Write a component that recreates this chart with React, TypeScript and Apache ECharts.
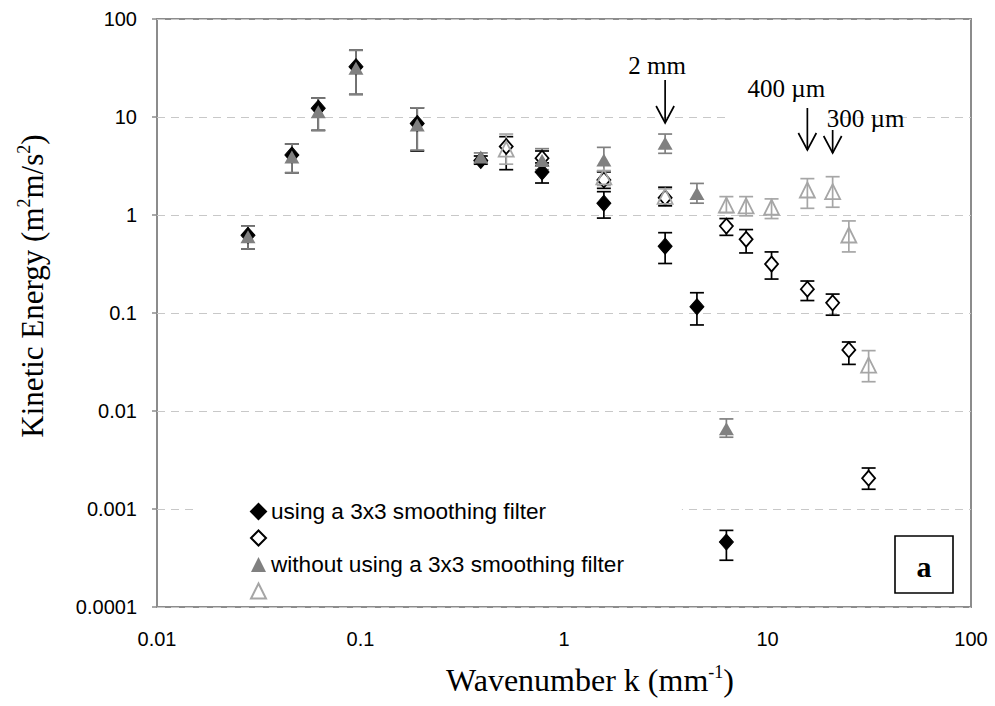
import React, { useEffect, useRef } from "react";
import * as echarts from "echarts";

// ---- data (wavenumber k in mm^-1, kinetic energy in m^2 m/s^2) ----
const kFilled = [0.028, 0.046, 0.062, 0.095, 0.19, 0.39, 0.78, 1.57, 3.14, 4.5, 6.28];
const keFilledDiamond = [0.62, 4.1, 12.3, 32.6, 8.6, 3.6, 2.75, 1.32, 0.48, 0.116, 0.00046];
const loFilledDiamond = [0.45, 2.7, 7.3, 17, 4.5, 3.3, 2.12, 0.93, 0.32, 0.0755, 0.0003];
const hiFilledDiamond = [0.77, 5.3, 15.6, 48, 12.4, 4.0, 3.4, 1.73, 0.66, 0.161, 0.000605];

const keFilledTriangle = [0.6, 3.9, 11.3, 31.4, 8.3, 3.9, 3.6, 3.64, 5.4, 1.66, 0.0066];
const loFilledTriangle = [0.45, 2.7, 7.3, 17, 4.6, 3.5, 2.9, 2.83, 4.26, 1.32, 0.0054];
const hiFilledTriangle = [0.77, 5.3, 15.6, 48, 12.4, 4.3, 4.75, 4.9, 6.7, 2.1, 0.0083];

const kHollowDiamond = [0.52, 0.78, 1.57, 3.14, 6.28, 7.85, 10.47, 15.7, 20.9, 25.1, 31.4];
const keHollowDiamond = [5.0, 3.8, 2.28, 1.5, 0.77, 0.565, 0.316, 0.175, 0.127, 0.042, 0.00206];
const loHollowDiamond = [2.9, 3.2, 1.87, 1.24, 0.62, 0.41, 0.222, 0.134, 0.095, 0.0299, 0.00159];
const hiHollowDiamond = [6.3, 4.5, 2.75, 1.92, 0.92, 0.71, 0.42, 0.212, 0.156, 0.0506, 0.00262];

const kHollowTriangle = [0.52, 1.57, 3.14, 6.28, 7.85, 10.47, 15.7, 20.9, 25.1, 31.4];
const keHollowTriangle = [4.7, 2.45, 1.55, 1.26, 1.24, 1.2, 1.8, 1.73, 0.625, 0.0294];
const loHollowTriangle = [3.3, 2.0, 1.3, 1.06, 0.98, 0.92, 1.17, 1.2, 0.42, 0.0199];
const hiHollowTriangle = [6.7, 2.83, 1.85, 1.54, 1.54, 1.46, 2.35, 2.46, 0.87, 0.0413];

const seriesNames = [
  "using a 3x3 smoothing filter",
  "_hollowDiamond",
  "without using a 3x3 smoothing filter",
  "_hollowTriangle",
];

const annotationLabels = ["2 mm", "400 µm", "300 µm"];
const annotationK = [3.14, 15.7, 20.9];

const xMin = 0.01;
const xMax = 100;
const yMin = 0.0001;
const yMax = 100;

const SANS = "'Liberation Sans', Arial, sans-serif";
const SERIF = "'Liberation Serif', 'Times New Roman', serif";

const pts = (xs: number[], ys: number[]) => xs.map((x, i) => [x, ys[i]]);
const errs = (xs: number[], lo: number[], hi: number[]) =>
  xs.map((x, i) => [x, lo[i], hi[i]]);

const errRender = (color: string) => (params: any, api: any) => {
  const x = api.value(0);
  const lo = api.value(1);
  const hi = api.value(2);
  const p1 = api.coord([x, lo]);
  const p2 = api.coord([x, hi]);
  const w = 7;
  const style = { stroke: color, lineWidth: 1.7, fill: "none" };
  return {
    type: "group",
    children: [
      { type: "line", shape: { x1: p1[0], y1: p1[1], x2: p2[0], y2: p2[1] }, style },
      { type: "line", shape: { x1: p1[0] - w, y1: p1[1], x2: p1[0] + w, y2: p1[1] }, style },
      { type: "line", shape: { x1: p2[0] - w, y1: p2[1], x2: p2[0] + w, y2: p2[1] }, style },
    ],
  };
};

const fmt = (v: number) => String(Number(v.toPrecision(1)));

export default function App() {
  const ref = useRef<HTMLDivElement>(null);

  useEffect(() => {
    document.body.style.margin = "0";
    if (!ref.current) return;
    const chart = echarts.init(ref.current, undefined, { renderer: "svg" });

    const errSeries = (xs: number[], lo: number[], hi: number[], color: string) => ({
      type: "custom",
      renderItem: errRender(color),
      data: errs(xs, lo, hi),
      encode: { x: 0, y: [1, 2] },
      silent: true,
    });

    const option: any = {
      animation: false,
      backgroundColor: "#ffffff",
      grid: {
        left: 157,
        right: 24,
        top: 19,
        bottom: 99,
        show: true,
        borderColor: "#8c8c8c",
        borderWidth: 2,
        backgroundColor: "transparent",
      },
      xAxis: {
        type: "log",
        logBase: 10,
        min: xMin,
        max: xMax,
        axisLine: { show: false },
        axisTick: { show: false },
        splitLine: { show: false },
        axisLabel: {
          fontFamily: SANS,
          fontSize: 20,
          color: "#000",
          margin: 22,
          formatter: fmt,
        },
      },
      yAxis: {
        type: "log",
        logBase: 10,
        min: yMin,
        max: yMax,
        axisLine: { show: false },
        axisTick: { show: true, length: 5, lineStyle: { color: "#8c8c8c", width: 1.5 } },
        splitLine: {
          show: true,
          lineStyle: { color: "#c8c8c8", width: 1, type: [8, 6] },
        },
        axisLabel: {
          fontFamily: SANS,
          fontSize: 20,
          color: "#000",
          margin: 20,
          formatter: fmt,
        },
      },
      legend: {
        data: seriesNames,
        orient: "vertical",
        left: 197,
        top: 492,
        padding: [8, 58, 2, 53],
        backgroundColor: "#ffffff",
        itemWidth: 15,
        itemHeight: 15,
        itemGap: 3.5,
        selectedMode: false,
        formatter: (name: string) => (name.startsWith("_") ? " " : name),
        textStyle: { fontFamily: SANS, fontSize: 22.6, color: "#000", lineHeight: 22 },
      },
      series: [
        errSeries(kFilled, loFilledDiamond, hiFilledDiamond, "#000000"),
        {
          name: seriesNames[0],
          type: "scatter",
          symbol: "diamond",
          symbolSize: [14, 16],
          itemStyle: { color: "#000000", opacity: 1, borderColor: "#000000", borderWidth: 1 },
          data: pts(kFilled, keFilledDiamond),
        },
        errSeries(kHollowDiamond, loHollowDiamond, hiHollowDiamond, "#000000"),
        {
          name: seriesNames[1],
          type: "scatter",
          symbol: "diamond",
          symbolSize: [13, 15],
          itemStyle: { color: "#ffffff", opacity: 1, borderColor: "#000000", borderWidth: 1.8 },
          data: pts(kHollowDiamond, keHollowDiamond),
        },
        errSeries(kFilled, loFilledTriangle, hiFilledTriangle, "#808080"),
        {
          name: seriesNames[2],
          type: "scatter",
          symbol: "triangle",
          symbolSize: [15, 13],
          itemStyle: { color: "#808080", opacity: 1 },
          data: pts(kFilled, keFilledTriangle),
        },
        errSeries(kHollowTriangle, loHollowTriangle, hiHollowTriangle, "#a6a6a6"),
        {
          name: seriesNames[3],
          type: "scatter",
          symbol: "triangle",
          symbolSize: [15, 15],
          itemStyle: { color: "rgba(255,255,255,0)", opacity: 1, borderColor: "#a6a6a6", borderWidth: 1.8 },
          data: pts(kHollowTriangle, keHollowTriangle),
        },
      ],
    };

    chart.setOption(option);

    const ax = annotationK.map((k) => chart.convertToPixel({ xAxisIndex: 0 }, k) as number);
    const arrowY = [
      [80, 123],
      [108, 150],
      [130, 153],
    ];
    const textPos = [
      [ax[0] - 8, 65],
      [ax[1] - 21, 88],
      [ax[2] + 33, 118],
    ];
    const arrowStyle = { stroke: "#000", lineWidth: 1.7, fill: "none" };

    const graphic: any[] = [
      // white box behind the "400 µm" note (covers the grid line)
      {
        type: "rect",
        shape: { x: ax[1] - 82, y: 72, width: 100, height: 50 },
        style: { fill: "#ffffff" },
        z: 50,
      },
    ];
    annotationLabels.forEach((label, i) => {
      graphic.push({
        type: "text",
        x: textPos[i][0],
        y: textPos[i][1],
        z: 60,
        style: {
          text: label,
          font: `25px ${SERIF}`,
          fill: "#000",
          textAlign: "center",
          textVerticalAlign: "middle",
        },
      });
      const x = ax[i];
      const [y1, y2] = arrowY[i];
      graphic.push({
        type: "line",
        z: 60,
        shape: { x1: x, y1, x2: x, y2 },
        style: arrowStyle,
      });
      graphic.push({
        type: "polyline",
        z: 60,
        shape: { points: [[x - 9, y2 - 17], [x, y2], [x + 9, y2 - 17]] },
        style: arrowStyle,
      });
    });

    // axis titles
    graphic.push({
      type: "text",
      x: 590,
      y: 680,
      z: 60,
      style: {
        text: "{a|Wavenumber k (mm}{s|-1}{a|)}",
        textAlign: "center",
        textVerticalAlign: "middle",
        rich: {
          a: { fontFamily: SERIF, fontSize: 32, fill: "#000", color: "#000" },
          s: { fontFamily: SERIF, fontSize: 18, fill: "#000", color: "#000", padding: [0, 0, 16, 0] },
        },
      },
    });
    graphic.push({
      type: "text",
      x: 32,
      y: 286,
      rotation: Math.PI / 2,
      z: 60,
      style: {
        text: "{a|Kinetic Energy (m}{s|2}{a|m/s}{s|2}{a|)}",
        textAlign: "center",
        textVerticalAlign: "middle",
        rich: {
          a: { fontFamily: SERIF, fontSize: 31, fill: "#000", color: "#000" },
          s: { fontFamily: SERIF, fontSize: 18, fill: "#000", color: "#000", padding: [0, 0, 16, 0] },
        },
      },
    });
    // panel label box "a"
    graphic.push({
      type: "rect",
      z: 60,
      shape: { x: 895, y: 536, width: 58, height: 57 },
      style: { fill: "#ffffff", stroke: "#000", lineWidth: 1.6 },
    });
    graphic.push({
      type: "text",
      z: 61,
      x: 924,
      y: 566,
      style: {
        text: "a",
        font: `bold 30px ${SERIF}`,
        fill: "#000",
        textAlign: "center",
        textVerticalAlign: "middle",
      },
    });

    chart.setOption({ graphic });

    return () => chart.dispose();
  }, []);

  return <div ref={ref} style={{ width: 995, height: 706 }} />;
}
